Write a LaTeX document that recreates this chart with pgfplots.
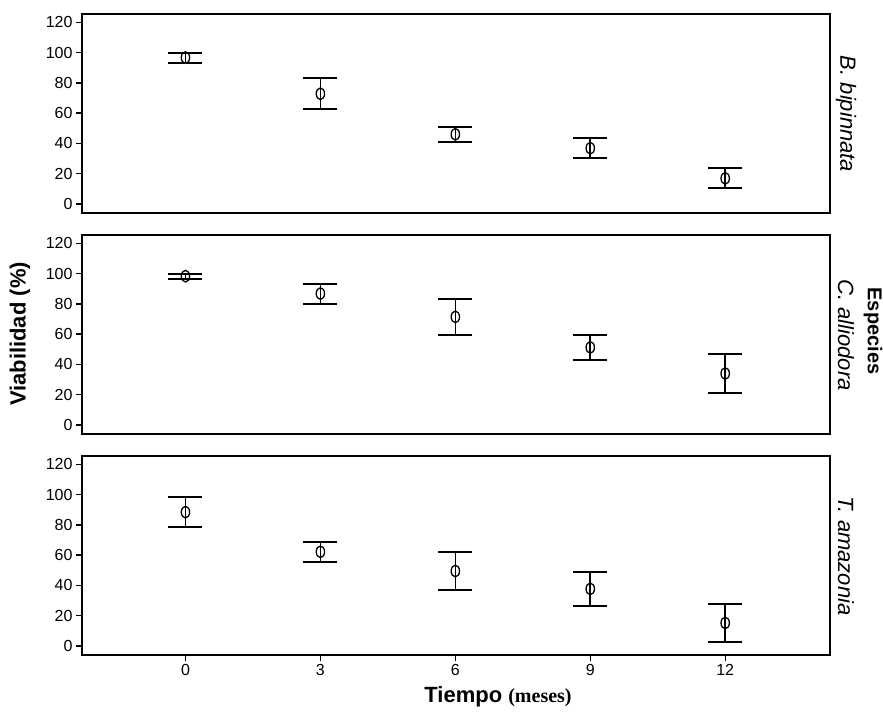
\documentclass[border=0pt]{standalone}
\usepackage{pgfplots}
\pgfplotsset{compat=1.18}
\usepackage{pgfplotstable}
\usepackage{fontspec}
\setmainfont{Liberation Sans}
\newfontfamily\serifb{Liberation Serif}

\pgfplotstableread{
x y e
0 96.7 3.3
3 72.8 10.2
6 46.0 5.1
9 36.8 6.6
12 16.9 6.7
}\Bb
\pgfplotstableread{
x y e
0 98.3 1.7
3 86.8 6.6
6 71.4 12.0
9 51.2 8.5
12 34.0 13.0
}\Ca
\pgfplotstableread{
x y e
0 88.4 9.9
3 62.2 6.6
6 49.5 12.4
9 37.7 11.3
12 15.2 12.3
}\Ta

\pgfplotsset{
  panel/.style={
    anchor=north west,
    scale only axis,
    width=748pt, height=199pt,
    xmin=-2.3, xmax=14.33,
    ymin=-6, ymax=125.5,
    ytick={0,20,...,120},
    axis line style={line width=1.4pt},
    tick style={line width=1.3pt, black},
    major tick length=6pt,
    tick align=outside,
    ytick pos=left,
    xtick pos=bottom,
    /pgf/number format/assume math mode=true,
    tick label style={font=\fontsize{16}{18}\selectfont},
    yticklabel style={xshift=0pt},
    clip=false,
  },
  ebar/.style={
    only marks, black, mark=o, mark size=5.8pt,
    mark options={xscale=0.72, line width=1.3pt},
    error bars/.cd, y dir=both, y explicit,
    error bar style={line width=1.6pt},
    error mark options={rotate=90, mark size=17pt, line width=2pt},
  },
}

\begin{document}
\begin{tikzpicture}[x=1pt,y=1pt]
\path[use as bounding box] (0,0) rectangle (883,-717);

\begin{axis}[panel, at={(82pt,-14pt)}, xtick=\empty]
\addplot+[ebar] table[x=x, y=y, y error=e] {\Bb};
\end{axis}

\begin{axis}[panel, at={(82pt,-235pt)}, xtick=\empty]
\addplot+[ebar] table[x=x, y=y, y error=e] {\Ca};
\end{axis}

\begin{axis}[panel, at={(82pt,-456pt)}, xtick={0,3,6,9,12}]
\addplot+[ebar] table[x=x, y=y, y error=e] {\Ta};
\end{axis}

\node[rotate=90, font=\bfseries\fontsize{22}{24}\selectfont] at (20,-334) {Viabilidad (\%)};
\node[rotate=-90, font=\itshape\fontsize{22}{24}\selectfont] at (846,-114) {B. bipinnata};
\node[rotate=-90, font=\itshape\fontsize{22}{24}\selectfont] at (846,-335) {C. alliodora};
\node[rotate=-90, font=\itshape\fontsize{22}{24}\selectfont] at (846,-556) {T. amazonia};
\node[rotate=-90, font=\bfseries\fontsize{20}{22}\selectfont] at (873,-331) {Especies};
\node[font=\bfseries\fontsize{22}{24}\selectfont] at (498,-697) {Tiempo {\serifb\fontsize{20}{22}\selectfont(meses)}};
\end{tikzpicture}
\end{document}
